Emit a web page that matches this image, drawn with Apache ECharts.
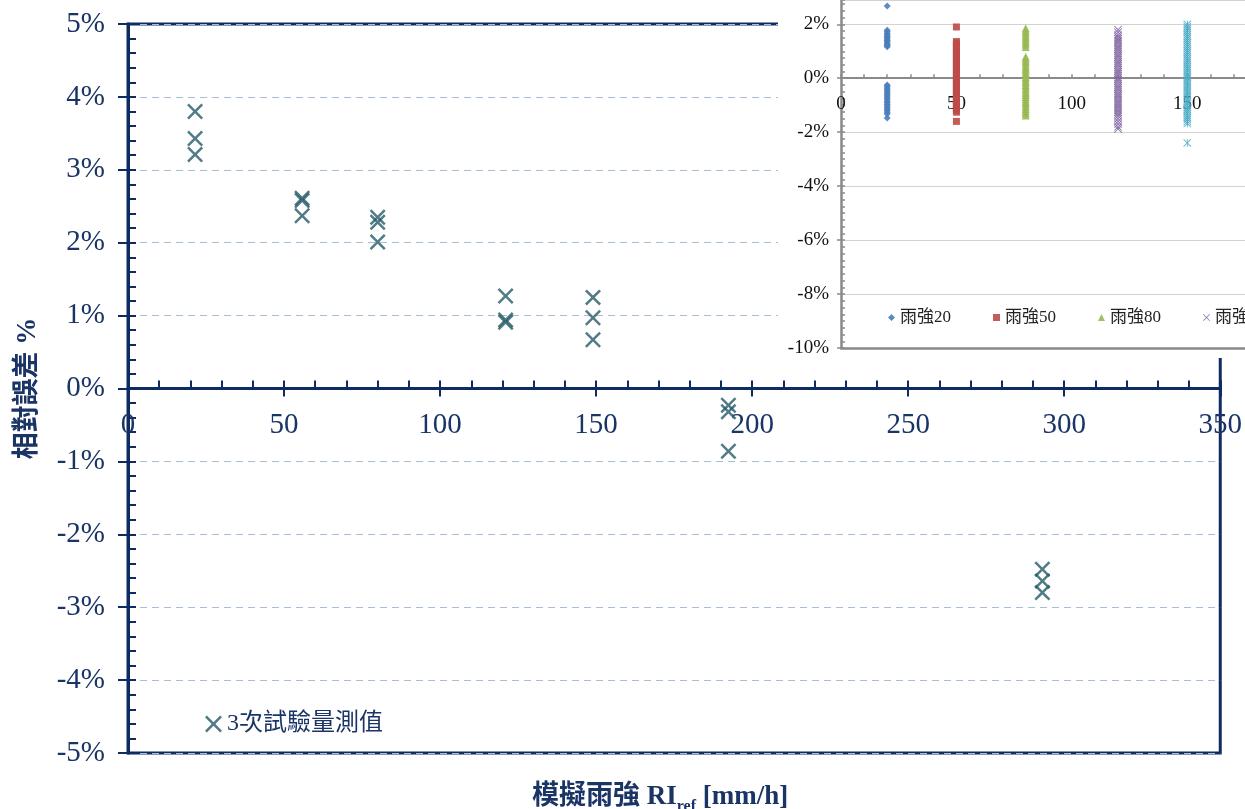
<!DOCTYPE html>
<html>
<head>
<meta charset="utf-8">
<script src="https://cdn.jsdelivr.net/npm/echarts@6/dist/echarts.min.js"></script>
<style>
  html, body { margin: 0; padding: 0; background: #fff; }
  #chart { width: 1245px; height: 809px; }
</style>
</head>
<body>
<div id="chart"></div>
<script>
// Main scatter: three repeated trials at each reference rain intensity
const rainRef = [21.5, 21.5, 21.5, 55.8, 55.8, 55.8, 80, 80, 80, 121, 121, 121, 149, 149, 149, 192.4, 192.4, 192.4, 293, 293, 293];
const relErr  = [3.80, 3.43, 3.21, 2.61, 2.58, 2.37, 2.35, 2.28, 2.01, 1.27, 0.94, 0.91, 1.25, 0.97, 0.67, -0.23, -0.32, -0.86, -2.48, -2.64, -2.80];
const mainSeriesName = '3次試驗量測值';

// Inset: per-intensity scatter of relative error (%)
const insetNames = ['雨強20', '雨強50', '雨強80', '雨強120', '雨強150'];
const insetX = [20, 50, 80, 120, 150];
const inset20 = [2.68, 1.78, 1.72, 1.66, 1.60, 1.55, 1.50, 1.45, 1.40, 1.35, 1.30, 1.25, 1.20, 1.17,
  -0.25, -0.30, -0.36, -0.42, -0.48, -0.55, -0.60, -0.66, -0.72, -0.78, -0.85, -0.90, -0.96, -1.02, -1.08, -1.14, -1.20, -1.26, -1.33, -1.47];
const inset50 = [1.90, 1.36, 1.30, 1.22, 1.15, 1.05, 0.98, 0.90, 0.82, 0.75, 0.68, 0.60, 0.52, 0.45, 0.38, 0.30, 0.22, 0.15, 0.08, 0.00,
  -0.08, -0.15, -0.22, -0.30, -0.38, -0.45, -0.52, -0.60, -0.68, -0.75, -0.82, -0.90, -0.98, -1.05, -1.12, -1.20, -1.26, -1.60];
const inset80 = [1.85, 1.78, 1.70, 1.62, 1.55, 1.48, 1.40, 1.32, 1.25, 1.16, 0.80, 0.72, 0.65, 0.58, 0.50, 0.42, 0.35, 0.28, 0.20, 0.12, 0.05,
  -0.02, -0.10, -0.18, -0.25, -0.32, -0.40, -0.48, -0.55, -0.62, -0.70, -0.78, -0.85, -0.92, -1.00, -1.08, -1.15, -1.22, -1.30, -1.38];
const inset120 = [1.80, 1.70, 1.60, 1.52, 1.45, 1.38, 1.30, 1.22, 1.15, 1.08, 1.00, 0.92, 0.85, 0.78, 0.70, 0.62, 0.55, 0.48, 0.40, 0.32, 0.25, 0.18, 0.10, 0.02,
  -0.05, -0.12, -0.20, -0.28, -0.35, -0.42, -0.50, -0.58, -0.65, -0.72, -0.80, -0.88, -0.95, -1.02, -1.10, -1.18, -1.25, -1.32, -1.40, -1.50, -1.60, -1.70, -1.80, -1.88];
const inset150 = [2.00, 1.92, 1.85, 1.78, 1.70, 1.62, 1.55, 1.48, 1.40, 1.32, 1.25, 1.18, 1.10, 1.02, 0.95, 0.88, 0.80, 0.72, 0.65, 0.58, 0.50, 0.42, 0.35, 0.28, 0.20, 0.12, 0.05,
  -0.02, -0.10, -0.18, -0.25, -0.32, -0.40, -0.48, -0.55, -0.62, -0.70, -0.78, -0.85, -0.92, -1.00, -1.08, -1.15, -1.22, -1.30, -1.38, -1.45, -1.52, -1.60, -1.68, -2.40];
const insetValues = [inset20, inset50, inset80, inset120, inset150];

// Axis ranges
const mainX = { min: 0, max: 350, step: 50 };
const mainY = { min: -5, max: 5, step: 1 };
const insetXRange = { min: 0, max: 175, step: 10 };
const insetYRange = { min: -10, max: 2.9, step: 2 };

const FONT = "'Liberation Serif', 'Noto Sans CJK TC', serif";
const NAVY = '#0e2c62';
const NAVY_TEXT = '#1a3466';
const CROSS = '#255b68';
const INSET_AXIS = '#8a8a8a';

// Plot boxes (pixels)
const mainBox = { left: 128, right: 20, top: 24, bottom: 56 };
const mainH = 809 - mainBox.top - mainBox.bottom;
const insetBox = { left: 841, right: 0, top: 0, height: 348 };

// Horizontal axes sit on the 0% line of their own plot
const mainZeroOffset = -mainH * (0 - mainY.min) / (mainY.max - mainY.min);
const insetZeroOffset = -insetBox.height * (0 - insetYRange.min) / (insetYRange.max - insetYRange.min);

const X_MARK = 'path://M0,1.1L1.1,0L5,3.9L8.9,0L10,1.1L6.1,5L10,8.9L8.9,10L5,6.1L1.1,10L0,8.9L3.9,5Z';
const X_THIN = 'path://M0,0.8L0.8,0L5,4.2L9.2,0L10,0.8L5.8,5L10,9.2L9.2,10L5,5.8L0.8,10L0,9.2L4.2,5Z';
const STAR = 'path://M0,0.8L0.8,0L5,4.2L9.2,0L10,0.8L5.8,5L10,9.2L9.2,10L5,5.8L0.8,10L0,9.2L4.2,5Z M4.5,0L5.5,0L5.5,10L4.5,10Z';

const insetStyles = [
  { symbol: 'diamond', size: 7, color: '#4a7ebb' },
  { symbol: 'rect', size: 7, color: '#be4b48' },
  { symbol: 'triangle', size: 8, color: '#98b954' },
  { symbol: X_THIN, size: 8, color: '#8064a2' },
  { symbol: STAR, size: 8, color: '#4bacc6' }
];

const mainData = rainRef.map((x, i) => [x, relErr[i]]);

const insetSeries = insetNames.map((name, k) => ({
  name: name,
  type: 'scatter',
  xAxisIndex: 2,
  yAxisIndex: 2,
  z: 61,
  symbol: insetStyles[k].symbol,
  symbolSize: insetStyles[k].size,
  itemStyle: { color: insetStyles[k].color, opacity: 0.9 },
  data: insetValues[k].map(v => [insetX[k], v])
}));

const pct = v => v + '%';

const option = {
  animation: false,
  backgroundColor: '#fff',
  textStyle: { fontFamily: FONT },
  title: {
    text: '{a|模擬雨強 RI}{s|ref}{a| [mm/h]}',
    left: 527,
    top: 779,
    textStyle: {
      rich: {
        a: { fontFamily: FONT, fontSize: 27, fontWeight: 'bold', color: NAVY_TEXT, lineHeight: 28, verticalAlign: 'top' },
        s: { fontFamily: FONT, fontSize: 16, fontWeight: 'bold', color: NAVY_TEXT, lineHeight: 16, padding: [15, 0, 0, 0], verticalAlign: 'top' }
      }
    }
  },
  legend: [
    {
      data: [mainSeriesName],
      left: 200,
      top: 707,
      itemWidth: 17,
      itemHeight: 17,
      itemGap: 6,
      textStyle: { fontFamily: FONT, fontSize: 24, color: NAVY_TEXT }
    },
    {
      data: insetNames,
      left: 883,
      top: 304,
      width: 700,
      z: 62,
      itemWidth: 7,
      itemHeight: 7,
      itemGap: 42,
      textStyle: { fontFamily: FONT, fontSize: 17, color: '#222' }
    }
  ],
  graphic: [
    {
      type: 'rect',
      z: 50,
      shape: { x: 778, y: 0, width: 467, height: 358 },
      style: { fill: '#fff' },
      silent: true
    }
  ],
  grid: [
    {
      left: mainBox.left, right: mainBox.right, top: mainBox.top, bottom: mainBox.bottom,
      show: true, borderColor: NAVY, borderWidth: 3, backgroundColor: 'transparent'
    },
    {
      left: insetBox.left, right: insetBox.right, top: insetBox.top, height: insetBox.height,
      show: false
    }
  ],
  xAxis: [
    {
      gridIndex: 0, type: 'value', min: mainX.min, max: mainX.max, interval: mainX.step,
      position: 'bottom', offset: mainZeroOffset,
      axisLine: { onZero: false, lineStyle: { color: NAVY, width: 3 } },
      axisTick: { show: true, inside: false, length: 8, lineStyle: { color: NAVY, width: 2 } },
      axisLabel: { fontFamily: FONT, fontSize: 29, color: NAVY_TEXT, margin: 22 },
      splitLine: { show: false }
    },
    {
      gridIndex: 0, type: 'value', min: mainX.min, max: mainX.max, interval: mainX.step,
      position: 'bottom', offset: mainZeroOffset,
      axisLine: { onZero: false, lineStyle: { color: NAVY, width: 3 } },
      axisTick: { show: true, inside: true, length: 8, lineStyle: { color: NAVY, width: 2 } },
      minorTick: { show: true, splitNumber: 5, length: 8, lineStyle: { color: NAVY, width: 2 } },
      axisLabel: { show: false },
      splitLine: { show: false }
    },
    {
      gridIndex: 1, type: 'value', min: insetXRange.min, max: insetXRange.max, interval: insetXRange.step, z: 60,
      position: 'bottom', offset: insetZeroOffset,
      axisLine: { onZero: false, lineStyle: { color: INSET_AXIS, width: 2 } },
      axisTick: { show: true, inside: true, length: 4, lineStyle: { color: INSET_AXIS, width: 1.5 } },
      axisLabel: {
        fontFamily: FONT, fontSize: 19, color: '#111', margin: 16, showMaxLabel: false,
        formatter: v => (v % 50 === 0 ? String(v) : '')
      },
      splitLine: { show: false }
    },
    {
      gridIndex: 1, type: 'value', min: insetXRange.min, max: insetXRange.max, z: 60, position: 'bottom',
      axisLine: { onZero: false, lineStyle: { color: INSET_AXIS, width: 2.5 } },
      axisTick: { show: false },
      axisLabel: { show: false },
      splitLine: { show: false }
    }
  ],
  yAxis: [
    {
      gridIndex: 0, type: 'value', min: mainY.min, max: mainY.max, interval: mainY.step, position: 'left',
      axisLine: { show: true, onZero: false, lineStyle: { color: NAVY, width: 3 } },
      axisTick: { show: true, inside: false, length: 10, lineStyle: { color: NAVY, width: 2 } },
      axisLabel: { fontFamily: FONT, fontSize: 29, color: NAVY_TEXT, margin: 23, formatter: pct },
      splitLine: { show: true, lineStyle: { color: '#a8bdd6', width: 1, type: [7, 5] } },
      name: '相對誤差 %',
      nameLocation: 'middle',
      nameRotate: 90,
      nameGap: 86,
      nameTextStyle: { fontFamily: FONT, fontSize: 27, fontWeight: 'bold', color: NAVY_TEXT }
    },
    {
      gridIndex: 0, type: 'value', min: mainY.min, max: mainY.max, interval: mainY.step, position: 'left',
      axisLine: { show: false, onZero: false },
      axisTick: { show: true, inside: true, length: 8, lineStyle: { color: NAVY, width: 2 } },
      minorTick: { show: true, splitNumber: 5, length: 8, lineStyle: { color: NAVY, width: 2 } },
      axisLabel: { show: false },
      splitLine: { show: false }
    },
    {
      gridIndex: 1, type: 'value', min: insetYRange.min, max: insetYRange.max, interval: insetYRange.step, position: 'left', z: 60,
      axisLine: { show: true, onZero: false, lineStyle: { color: INSET_AXIS, width: 2.5 } },
      axisTick: { show: true, inside: false, length: 4, lineStyle: { color: INSET_AXIS, width: 1.5 } },
      axisLabel: { fontFamily: FONT, fontSize: 19, color: '#111', margin: 12, formatter: pct, showMaxLabel: false },
      splitLine: { show: true, lineStyle: { color: '#d2d2d2', width: 1.2 } }
    },
    {
      gridIndex: 1, type: 'value', min: insetYRange.min, max: insetYRange.max, interval: insetYRange.step, position: 'left', z: 60,
      axisLine: { show: false, onZero: false },
      axisTick: { show: true, inside: true, length: 4, lineStyle: { color: INSET_AXIS, width: 1.5 } },
      minorTick: { show: true, splitNumber: 8, length: 4, lineStyle: { color: INSET_AXIS, width: 1.5 } },
      axisLabel: { show: false },
      splitLine: { show: false }
    }
  ],
  series: [
    {
      name: mainSeriesName,
      type: 'scatter',
      xAxisIndex: 0,
      yAxisIndex: 0,
      z: 3,
      symbol: X_MARK,
      symbolSize: 16,
      itemStyle: { color: CROSS },
      data: mainData
    }
  ].concat(insetSeries)
};

const chart = echarts.init(document.getElementById('chart'), null, { renderer: 'canvas' });
chart.setOption(option);
</script>
</body>
</html>
